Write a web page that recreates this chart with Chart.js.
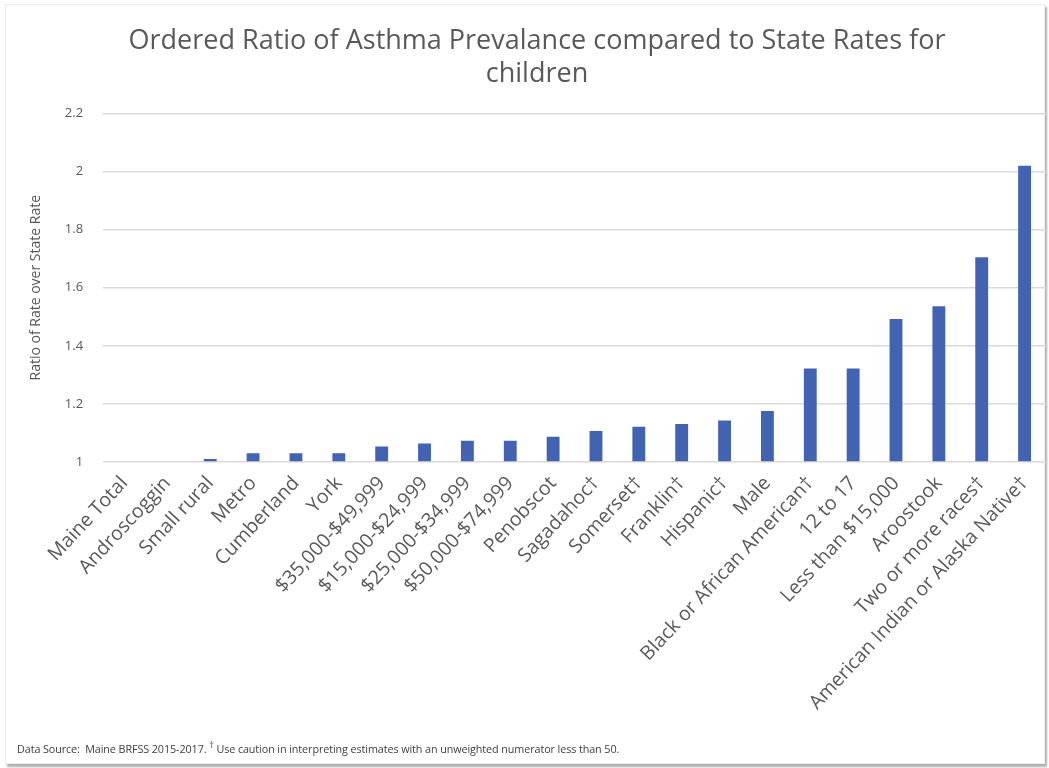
<!DOCTYPE html>
<html>
<head>
<meta charset="utf-8">
<script src="https://cdn.jsdelivr.net/npm/chart.js@4/dist/chart.umd.min.js"></script>
<style>
	html, body { margin: 0; padding: 0; background: #fff; }
	#wrap { position: relative; width: 1049px; height: 768px; overflow: hidden; }
	#frame { position: absolute; left: 5px; top: 4px; right: 4px; bottom: 4px; border: 1px solid #ececec; box-shadow: 2px 3px 2px #b0b0b0; }
	#chart { position: absolute; left: 0; top: 0; }
	#note { position: absolute; left: 17px; top: 738px; font: 10.8px "Open Sans", sans-serif; color: #404040; white-space: nowrap; letter-spacing: -0.1px; }
	#note sup { font-size: 9px; }
</style>
</head>
<body>
<div id="wrap">
	<div id="frame"></div>
	<canvas id="chart" width="1049" height="768"></canvas>
	<div id="note">Data Source:&nbsp; Maine BRFSS 2015-2017. <sup>†</sup> Use caution in interpreting estimates with an unweighted numerator less than 50.</div>
</div>
<script>
const categories = [
	"Maine Total", "Androscoggin", "Small rural", "Metro", "Cumberland", "York",
	"$35,000-$49,999", "$15,000-$24,999", "$25,000-$34,999", "$50,000-$74,999",
	"Penobscot", "Sagadahoc†", "Somerset†", "Franklin†", "Hispanic†", "Male",
	"Black or African American†", "12 to 17", "Less than $15,000", "Aroostook",
	"Two or more races†", "American Indian or Alaska Native†",
];

const ratios = [
	1.0, 1.0, 1.01, 1.03, 1.03, 1.03,
	1.053, 1.064, 1.073, 1.073,
	1.087, 1.107, 1.121, 1.131, 1.143, 1.176,
	1.322, 1.322, 1.492, 1.536,
	1.705, 2.02,
];

const yTicks = [1, 1.2, 1.4, 1.6, 1.8, 2, 2.2];

const grey = "#595959";

const config = {
	type: "bar",
	data: {
		labels: categories,
		datasets: [
			{
				label: "Ratio",
				data: ratios,
				backgroundColor: "#4263b2",
				barPercentage: 0.6,
				categoryPercentage: 0.5,
				base: 1,
			},
		],
	},
	options: {
		responsive: false,
		animation: false,
		layout: { padding: { left: 28, right: 3, top: 24, bottom: 0 } },
		plugins: {
			legend: { display: false },
			tooltip: { enabled: false },
			title: {
				display: true,
				text: ["Ordered Ratio of Asthma Prevalance compared to State Rates for", "children"],
				color: grey,
				font: { family: "Open Sans", size: 27, weight: "normal", lineHeight: 1.25 },
				padding: { top: 0, bottom: 22 },
			},
		},
		scales: {
			x: {
				grid: { display: false },
				border: { display: false },
				ticks: {
					color: grey,
					font: { family: "Open Sans", size: 19.5 },
					minRotation: 47,
					maxRotation: 47,
					autoSkip: false,
					padding: 2,
				},
				afterFit: (s) => { s.height = 306; },
			},
			y: {
				min: 1,
				max: 2.2,
				afterBuildTicks: (s) => { s.ticks = yTicks.map((v) => ({ value: v })); },
				grid: { color: "#d9d9d9", lineWidth: 1.5, drawTicks: false },
				border: { display: false },
				ticks: {
					color: grey,
					font: { family: "Open Sans", size: 13 },
					padding: 20,
					callback: (v) => String(Math.round(v * 10) / 10),
				},
				title: {
					display: true,
					text: "Ratio of Rate over State Rate",
					color: grey,
					font: { family: "Open Sans", size: 14 },
					padding: { top: 0, bottom: 0 },
				},
			},
		},
	},
};

const chart = new Chart(document.getElementById("chart"), config);
</script>
</body>
</html>
